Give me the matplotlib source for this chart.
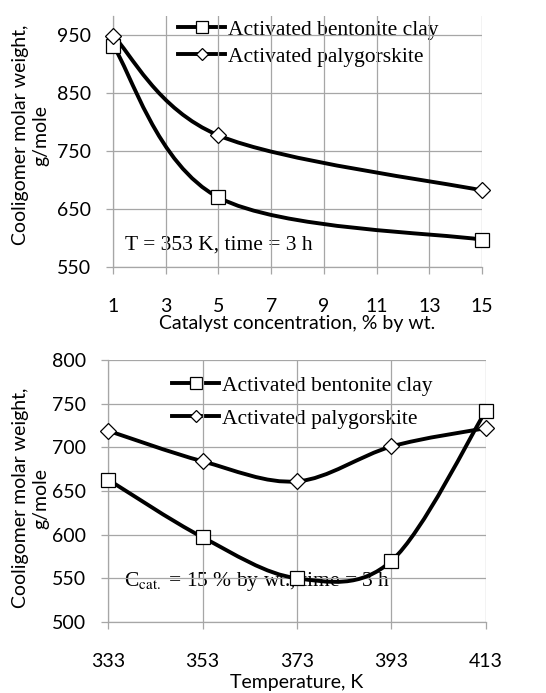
import numpy as np
import matplotlib
matplotlib.use("Agg")
import matplotlib.pyplot as plt
from matplotlib.path import Path
from matplotlib.patches import PathPatch
from matplotlib.lines import Line2D

plt.rcParams['font.family'] = ['Lato', 'DejaVu Sans']
plt.rcParams['mathtext.fontset'] = 'stix'

# top chart: catalyst concentration
conc = [1, 5, 15]
conc_bent = [932, 670, 597]
conc_paly = [949, 777, 682]

# bottom chart: temperature
temp = [333, 353, 373, 393, 413]
temp_bent = [663, 597, 550, 570, 742]
temp_paly = [719, 684, 661, 701, 722]

labels = ["Activated bentonite clay", "Activated palygorskite"]

grid_col = "#a6a6a6"
serif = ['Liberation Serif', 'DejaVu Serif']
fs_sans = 14
fs_serif = 15.5


def smooth_path(x, y):
    # Catmull-Rom style bezier through the points (like Excel's smoothed line)
    p = np.column_stack([x, y]).astype(float)
    ext = np.vstack([p[0], p, p[-1]])
    verts = [p[0]]
    codes = [Path.MOVETO]
    for i in range(len(p) - 1):
        c1 = ext[i + 1] + (ext[i + 2] - ext[i]) / 6.0
        c2 = ext[i + 2] - (ext[i + 3] - ext[i + 1]) / 6.0
        verts += [c1, c2, p[i + 1]]
        codes += [Path.CURVE4] * 3
    return Path(verts, codes)


def draw(ax, x, y, marker, ms):
    ax.add_patch(PathPatch(smooth_path(x, y), fill=False, lw=2.8,
                           edgecolor='black', zorder=2, capstyle='round'))
    ax.plot(x, y, ls='none', marker=marker, ms=ms, mfc='white',
            mec='black', mew=0.9, zorder=3, clip_on=False)


def style(ax):
    ax.set_axisbelow('line')
    ax.grid(True, color=grid_col, lw=0.9)
    for s in ['top', 'right']:
        ax.spines[s].set_visible(False)
    for s in ['left', 'bottom']:
        ax.spines[s].set_color(grid_col)
        ax.spines[s].set_linewidth(0.9)
    ax.tick_params(axis='both', direction='out', length=5, width=0.9,
                   color=grid_col, labelsize=fs_sans)
    ax.tick_params(axis='y', pad=11)
    ax.tick_params(axis='x', pad=17)


def legend(ax, anchor, spacing):
    handles = [Line2D([], [], color='black', lw=2.8, marker='s', ms=8,
                      mfc='white', mec='black', mew=0.9),
               Line2D([], [], color='black', lw=2.8, marker='D', ms=6.5,
                      mfc='white', mec='black', mew=0.9)]
    leg = ax.legend(handles, labels, loc='upper left', bbox_to_anchor=anchor,
                    frameon=False, borderpad=0, borderaxespad=0,
                    handlelength=2.2, handletextpad=0.12,
                    labelspacing=spacing, prop={'family': serif, 'size': fs_serif})
    leg.set_zorder(1)


fig = plt.figure(figsize=(5.46, 6.93), dpi=100)

# ---- top
ax1 = fig.add_axes([0.207, 0.6147, 0.676, 0.3623])
style(ax1)
draw(ax1, conc, conc_bent, 's', 10)
draw(ax1, conc, conc_paly, 'D', 8.5)
ax1.set_xlim(1, 15)
ax1.set_ylim(550, 983)
ax1.set_xticks(range(1, 16, 2))
ax1.set_yticks(range(550, 951, 100))
ax1.set_xlabel("Catalyst concentration, % by wt.", fontsize=fs_sans, labelpad=0)
legend(ax1, (0.176, 0.985), 0.32)
ax1.text(0.033, 0.088, "T = 353 K, time = 3 h", transform=ax1.transAxes,
         family=serif, fontsize=fs_serif, va='center', ha='left', zorder=1)
fig.text(0.057, 0.805, "Cooligomer molar weight,\ng/mole", rotation=90,
         ha='center', va='center', fontsize=fs_sans, multialignment='center',
         linespacing=1.25)

# ---- bottom
ax2 = fig.add_axes([0.198, 0.1025, 0.692, 0.378])
style(ax2)
draw(ax2, temp, temp_bent, 's', 10)
draw(ax2, temp, temp_paly, 'D', 8.5)
ax2.set_xlim(333, 413)
ax2.set_ylim(500, 800)
ax2.set_xticks(temp)
ax2.set_yticks(range(500, 801, 50))
ax2.set_xlabel("Temperature, K", fontsize=fs_sans, labelpad=3)
legend(ax2, (0.169, 0.94), 0.6)
ax2.text(0.042, 0.153, r"C$_{\mathrm{cat.}}$ = 15 % by wt., time = 3 h",
         transform=ax2.transAxes, family=serif, fontsize=fs_serif,
         va='center', ha='left', zorder=1)
fig.text(0.057, 0.281, "Cooligomer molar weight,\ng/mole", rotation=90,
         ha='center', va='center', fontsize=fs_sans, multialignment='center',
         linespacing=1.25)

fig.savefig("out.png", dpi=100)
